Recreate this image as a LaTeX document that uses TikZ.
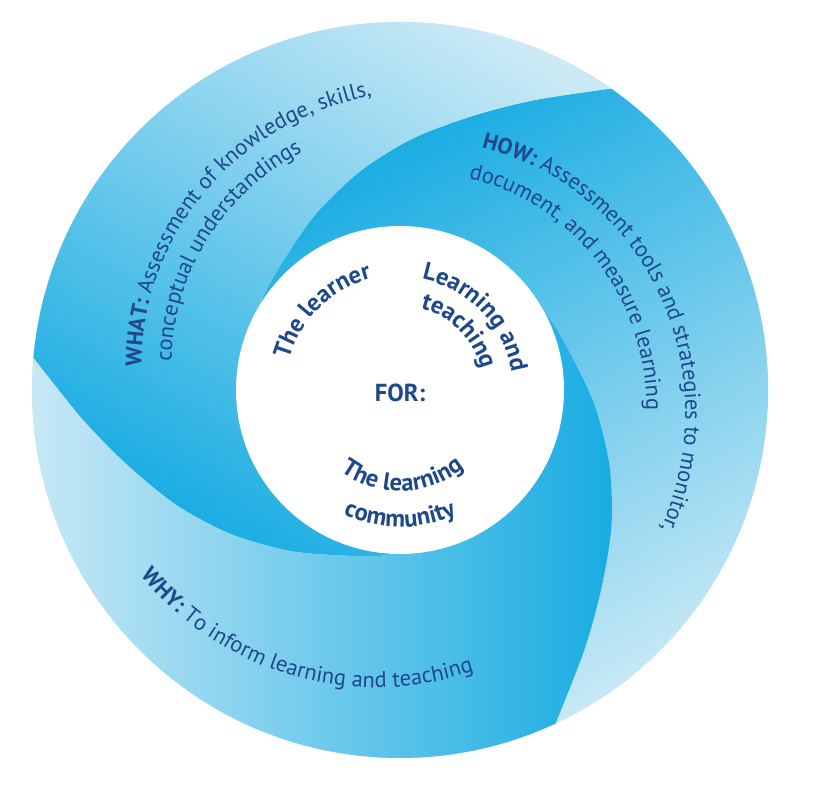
\documentclass[tikz,border=0pt]{standalone}
\usepackage{fontspec}
\setmainfont{PT Sans}
\usepackage{xcolor}
\usetikzlibrary{decorations.text}

\definecolor{swirlsat}{RGB}{24,172,226}
\definecolor{swirllight}{RGB}{204,234,246}
\definecolor{swirlnavy}{RGB}{30,72,140}

\newcommand{\bandbold}{\fontsize{12.8}{15}\selectfont\bfseries\color{swirlnavy}}
\newcommand{\bandnorm}{\fontsize{12.8}{15}\selectfont\mdseries\color{swirlnavy}}
\newcommand{\corebold}{\fontsize{14}{16}\selectfont\bfseries\color{swirlnavy}}

\begin{document}
\begin{tikzpicture}[
    x=0.02cm,
    y=0.02cm,
    blade/.style={top color=swirlsat, bottom color=swirllight, shading angle=#1},
    curved text/.style={decorate,
        decoration={text along path, text align=center, text={#1}}}
]
\useasboundingbox (-400,-400) rectangle (417,390);

% Light disc behind the blades
\fill[swirllight] (0,0) circle[radius=368];

% Three swirl blades: start angle / shading angle
\foreach \t/\s in {55/29, 175/150, 295/-90}{
  \path[blade=\s]
    plot[smooth] coordinates {(\t:368) ({\t+10}:320) ({\t+20}:284)
      ({\t+32}:252) ({\t+45}:223) ({\t+60}:196) ({\t+75}:176)
      ({\t+90}:166) ({\t+102}:158)}
    arc[start angle=\t+102, end angle=\t-18, radius=158]
    -- plot[smooth] coordinates {({\t-18}:158) ({\t-30}:166)
      ({\t-45}:176) ({\t-60}:196) ({\t-75}:223) ({\t-88}:252)
      ({\t-100}:284) ({\t-110}:320) ({\t-120}:368)}
    arc[start angle=\t-120, end angle=\t, radius=368]
    -- cycle;
}

% White core
\fill[white] (0,0) circle[radius=164];

% WHAT band
\path[curved text={|\bandbold|WHAT: |\bandnorm|Assessment of knowledge, skills,}]
  plot[domain=200:74, samples=64] (\x:{259+0.45*(176-\x)});
\path[curved text={|\bandnorm|conceptual understandings}]
  plot[domain=200:89, samples=56] (\x:{229+0.45*(176-\x)});

% HOW band
\path[curved text={|\bandbold|HOW: |\bandnorm|Assessment tools and strategies to monitor,}]
  plot[domain=100:-52, samples=77] (\x:{256+0.40*(71-\x)});
\path[curved text={|\bandnorm|document, and measure learning}]
  plot[domain=100:-29, samples=65] (\x:{223+0.32*(71-\x)});

% WHY band
\path[curved text={|\bandbold|WHY: |\bandnorm|To inform learning and teaching}]
  plot[domain=190:314, samples=63] (\x:{318-0.42*(\x-219)});

% FOR core
\node (for) at (0,-3) {\corebold FOR:};
\path[curved text={|\corebold|The learner}]
  (190:115) arc[start angle=190, end angle=79, radius=115];
\path[curved text={|\corebold|Learning and}]
  (100:113) arc[start angle=100, end angle=-12, radius=113];
\path[curved text={|\corebold|teaching}]
  (100:84) arc[start angle=100, end angle=-10, radius=84];
\path[curved text={|\corebold|The learning}]
  (215:101) arc[start angle=215, end angle=328, radius=101];
\path[curved text={|\corebold|community}]
  (215:137) arc[start angle=215, end angle=325, radius=137];

\end{tikzpicture}
\end{document}
